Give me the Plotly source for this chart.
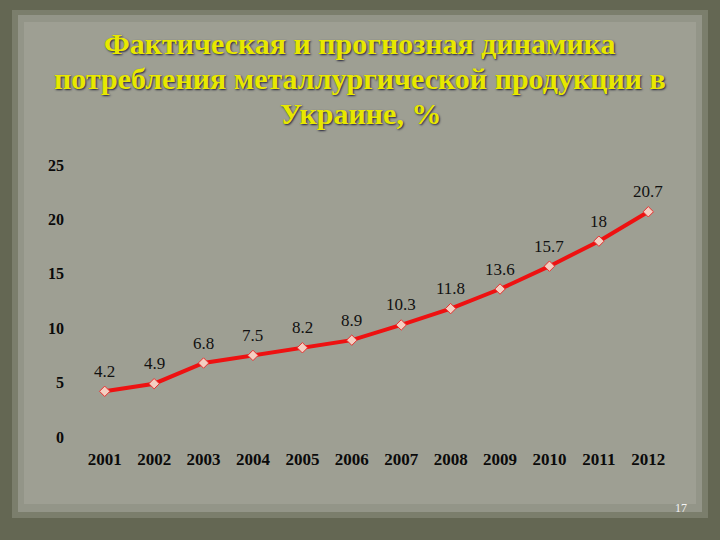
import plotly.graph_objects as go

years = [2001, 2002, 2003, 2004, 2005, 2006,
         2007, 2008, 2009, 2010, 2011, 2012]
values = [4.2, 4.9, 6.8, 7.5, 8.2, 8.9, 10.3, 11.8, 13.6, 15.7, 18, 20.7]
value_labels = ["4.2", "4.9", "6.8", "7.5", "8.2", "8.9",
                "10.3", "11.8", "13.6", "15.7", "18", "20.7"]
y_ticks = [0, 5, 10, 15, 20, 25]

title_lines = ["Фактическая и прогнозная динамика",
               "потребления металлургической продукции в",
               "Украине, %"]
page_number = "17"

W, H = 720, 540
ML, MR, MT, MB = 80, 47, 165, 103
PW, PH = W - ML - MR, H - MT - MB

def px_x(x):
    return (x - ML) / PW

def px_y(y):
    return (H - MB - y) / PH

SERIF = "Liberation Serif, Times New Roman, serif"
OUTER = "#646753"

fig = go.Figure()
fig.add_trace(go.Scatter(
    x=years, y=values, mode="lines+markers",
    line=dict(color="#ee1111", width=4),
    marker=dict(symbol="diamond", size=8, color="#f4cfc2",
                line=dict(color="#e83030", width=1)),
    hoverinfo="skip", showlegend=False,
))

for yr, v, lab in zip(years, values, value_labels):
    fig.add_annotation(x=yr, y=v, text=lab, showarrow=False,
                       yshift=20, xanchor="center", yanchor="middle",
                       font=dict(family=SERIF, size=17, color="#111111"))

# background panels
fig.add_shape(type="rect", xref="paper", yref="paper", layer="below",
              x0=px_x(12), x1=px_x(708), y0=px_y(518), y1=px_y(10),
              fillcolor="#7b7e6c", line_width=0)
fig.add_shape(type="rect", xref="paper", yref="paper", layer="below",
              x0=px_x(18), x1=px_x(702), y0=px_y(512), y1=px_y(15),
              fillcolor="#939588", line_width=0)
fig.add_shape(type="rect", xref="paper", yref="paper", layer="below",
              x0=px_x(24), x1=px_x(696), y0=px_y(504), y1=px_y(22),
              fillcolor="#9e9f93", line_width=0)

title_y = [43, 78, 113]
for line, ty in zip(title_lines, title_y):
    fig.add_annotation(xref="paper", yref="paper", x=px_x(360), y=px_y(ty),
                       text=line, showarrow=False,
                       xanchor="center", yanchor="middle",
                       font=dict(family=SERIF, size=30, color="#e8e800",
                                 weight="bold",
                                 shadow="1px 1px 2px #22223a"))

fig.add_annotation(xref="paper", yref="paper", x=px_x(681), y=px_y(508),
                   text=page_number, showarrow=False,
                   xanchor="center", yanchor="middle",
                   font=dict(family=SERIF, size=12, color="#f4f4f4"))

fig.update_layout(
    width=W, height=H,
    margin=dict(l=ML, r=MR, t=MT, b=MB, autoexpand=False),
    paper_bgcolor=OUTER, plot_bgcolor="rgba(0,0,0,0)",
    xaxis=dict(range=[2000.5, 2012.5], tickvals=years,
               ticktext=[str(y) for y in years],
               showgrid=False, zeroline=False, fixedrange=True,
               showline=False, ticks="", ticklabelstandoff=10,
               tickfont=dict(family=SERIF, size=17, color="#0a0a0a",
                             weight="bold")),
    yaxis=dict(range=[0, 25], tickvals=y_ticks, showgrid=False,
               zeroline=False, showline=False, ticks="", fixedrange=True,
               ticklabelstandoff=15,
               tickfont=dict(family=SERIF, size=16, color="#0a0a0a",
                             weight="bold")),
)

fig.write_html("out.html",
               config={"displayModeBar": False},
               post_script="document.body.style.margin='0px';"
                           "document.body.style.background='" + OUTER + "';")
